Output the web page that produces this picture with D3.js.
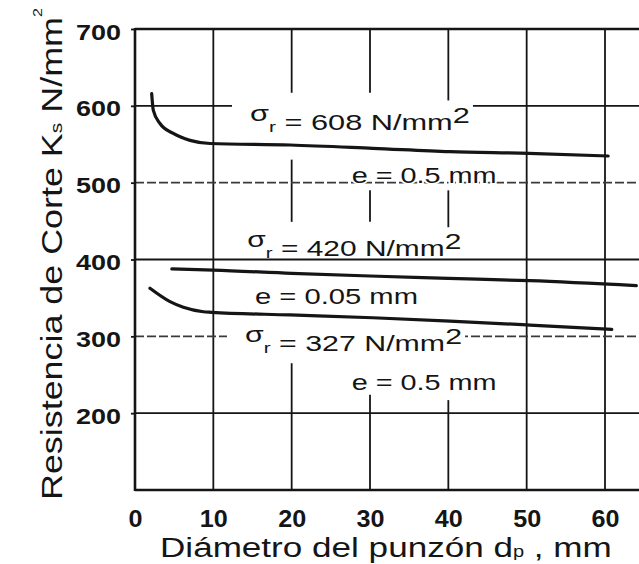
<!DOCTYPE html>
<html>
<head>
<meta charset="utf-8">
<script src="https://cdn.jsdelivr.net/npm/d3@7"></script>
<style>
  body { margin: 0; background: #fff; }
  svg { display: block; }
  text { font-family: "Liberation Sans", Arial, sans-serif; fill: #151515; }
</style>
</head>
<body>
<div id="chart"></div>
<script>
// axis ticks
const xTicks = [0, 10, 20, 30, 40, 50, 60]
const yTicks = [200, 300, 400, 500, 600, 700]

// sigma_r = 608 N/mm2, e = 0.5 mm
const diam608 = [2.13, 2.34, 3.19, 4.89, 7.02, 9.58, 19.8, 30.35, 40.2, 50.3, 60.4]
const ks608 = [616, 594, 577, 564, 555, 551, 549, 544.7, 540.3, 538.2, 534.7]
// sigma_r = 420 N/mm2, e = 0.05 mm
const diam420 = [4.7, 10, 20, 30, 40, 50.4, 64]
const ks420 = [387.7, 386.3, 382, 378.5, 375.5, 372.4, 366]
// sigma_r = 327 N/mm2, e = 0.5 mm
const diam327 = [1.91, 4.47, 6.17, 8.72, 9.79, 19.79, 30.35, 40.21, 50.43, 60.86]
const ks327 = [362.5, 345.1, 337.8, 332, 331.3, 327.8, 324.2, 319.9, 314.7, 309.1]

// curve labels, anchored in data units (x start, x end, baseline)
const sigmaLabels = [
  { value: '608', x0: 14.68, x1: 42.76, y: 568.5 },
  { value: '420', x0: 14.34, x1: 41.66, y: 404.5 },
  { value: '327', x0: 14.04, x1: 41.75, y: 280.9 },
]
const thicknessLabels = [
  { text: 'e = 0.5 mm', x0: 27.66, x1: 46.17, y: 499.6 },
  { text: 'e = 0.05 mm', x0: 15.32, x1: 36.13, y: 342.1 },
  { text: 'e = 0.5 mm', x0: 27.66, x1: 46.17, y: 230.1 },
]

const W = 639, H = 564
const ink = '#151515'
const DIGIT = 15 // width of one tick digit in the original, px

const svg = d3.select('#chart').append('svg').attr('width', W).attr('height', H)
svg.append('rect').attr('width', W).attr('height', H).attr('fill', '#fff')

const x = d3.scaleLinear().domain([0, 60]).range([135, 605])
const y = d3.scaleLinear().domain([100, 700]).range([490, 29])

// vertical grid lines are broken where the labels sit
const gridBreaks = {
  20: [[617, 700], [449, 530], [100, 265]],
  30: [[617, 700], [449, 490], [100, 224]],
  40: [[607, 700], [442, 490], [100, 217]],
}
const grid = svg.append('g')
xTicks.filter((d) => d > 0).forEach((d) => {
  const spans = gridBreaks[d] || [[100, 700]]
  spans.forEach((s) => {
    grid.append('line')
      .attr('x1', x(d)).attr('x2', x(d))
      .attr('y1', y(s[0])).attr('y2', y(s[1]))
      .attr('stroke', ink).attr('stroke-width', 1.8)
  })
})
yTicks.filter((d) => d < 700).forEach((d) => {
  const dashed = d === 500 || d === 300
  grid.append('line')
    .attr('x1', x(0)).attr('x2', W)
    .attr('y1', y(d)).attr('y2', y(d))
    .attr('stroke', dashed ? '#3a3a3a' : ink)
    .attr('stroke-width', dashed ? 1.6 : 1.8)
    .attr('stroke-dasharray', dashed ? '9,3' : null)
})

// frame (right side is cut off in the original)
const frame = svg.append('g').attr('stroke', ink).attr('stroke-width', 2.6)
frame.append('line').attr('x1', x(0)).attr('x2', x(0)).attr('y1', y(700) - 1).attr('y2', y(100) + 1)
frame.append('line').attr('x1', x(0)).attr('x2', W).attr('y1', y(700)).attr('y2', y(700))
frame.append('line').attr('x1', x(0)).attr('x2', W).attr('y1', y(100)).attr('y2', y(100))

// stretch a text horizontally so its ink box spans the given width
function fitWidth(inner, text, target) {
  const b = text.node().getBBox()
  const sx = target / b.width
  inner.attr('transform', `scale(${sx},1)`)
  text.attr('x', -b.x)
  return sx
}

// axes: d3 places the ticks, labels are then refit to the original's wide digits
const yAxis = svg.append('g')
  .attr('transform', `translate(${x(0)},0)`)
  .call(d3.axisLeft(y).tickValues(yTicks).tickSize(4).tickFormat(() => ''))
yAxis.select('.domain').remove()
yAxis.selectAll('line').attr('stroke', ink).attr('stroke-width', 1.8)
yAxis.selectAll('.tick').each(function (d) {
  const label = String(d)
  const w = DIGIT * label.length
  const g = d3.select(this).append('g').attr('transform', `translate(${-14 - w},10)`)
  const inner = g.append('g')
  const t = inner.append('text').style('font-size', '22px').style('font-weight', 'bold').text(label)
  fitWidth(inner, t, w)
})

const xAxis = svg.append('g')
  .attr('transform', `translate(0,${y(100)})`)
  .call(d3.axisBottom(x).tickValues(xTicks).tickSize(0).tickFormat(() => ''))
xAxis.select('.domain').remove()
xAxis.selectAll('.tick').each(function (d) {
  const label = String(d)
  const w = (DIGIT - 1) * label.length
  const g = d3.select(this).append('g').attr('transform', `translate(${-w / 2},37)`)
  const inner = g.append('g')
  const t = inner.append('text').style('font-size', '23px').style('font-weight', 'bold').text(label)
  fitWidth(inner, t, w)
})

// sigma labels, with a white knock-out behind
const labelLayer = svg.append('g')
sigmaLabels.forEach((d) => {
  const g = labelLayer.append('g').attr('transform', `translate(${x(d.x0)},${y(d.y)})`)
  const inner = g.append('g')
  const bg = inner.append('rect').attr('fill', '#fff')
  const t = inner.append('text').style('font-size', '22px')
  t.append('tspan').attr('dy', -9).text('σ')
  t.append('tspan').style('font-size', '15px').attr('dy', 11).text('r')
  t.append('tspan').attr('dy', -2).text(` = ${d.value} N/mm`)
  t.append('tspan').attr('dy', -7).text('2')
  const sx = fitWidth(inner, t, x(d.x1) - x(d.x0))
  bg.attr('x', -18 / sx).attr('width', (x(d.x1) - x(d.x0) + 21) / sx)
    .attr('y', -26).attr('height', 27)
})

thicknessLabels.forEach((d) => {
  const g = labelLayer.append('g').attr('transform', `translate(${x(d.x0)},${y(d.y)})`)
  const inner = g.append('g')
  const t = inner.append('text').style('font-size', '22px')
    .attr('stroke', '#fff').attr('stroke-width', 3).attr('paint-order', 'stroke')
    .text(d.text)
  fitWidth(inner, t, x(d.x1) - x(d.x0))
})

// curves
const line = d3.line()
  .x((d) => x(d[0]))
  .y((d) => y(d[1]))
  .curve(d3.curveMonotoneX)

const series = [
  d3.zip(diam608, ks608),
  d3.zip(diam420, ks420),
  d3.zip(diam327, ks327),
]
svg.append('g').selectAll('path')
  .data(series)
  .join('path')
  .attr('d', line)
  .attr('fill', 'none')
  .attr('stroke', ink)
  .attr('stroke-width', 3.2)
  .attr('stroke-linecap', 'round')

// axis titles
const xt = svg.append('g').attr('transform', `translate(160,557)`)
const xtIn = xt.append('g')
const xtText = xtIn.append('text').style('font-size', '28px')
xtText.append('tspan').text('Diámetro del punzón d')
xtText.append('tspan').style('font-size', '16px').text('p')
xtText.append('tspan').text(' , mm')
fitWidth(xtIn, xtText, 452)

const yt = svg.append('g').attr('transform', `translate(62,500) rotate(-90)`)
const ytIn = yt.append('g')
const ytText = ytIn.append('text').style('font-size', '29px')
ytText.append('tspan').text('Resistencia de Corte K')
ytText.append('tspan').style('font-size', '17px').text('s')
ytText.append('tspan').text(' N/mm')
ytText.append('tspan').style('font-size', '13px').attr('dy', -20).text('2')
fitWidth(ytIn, ytText, 492)
</script>
</body>
</html>
